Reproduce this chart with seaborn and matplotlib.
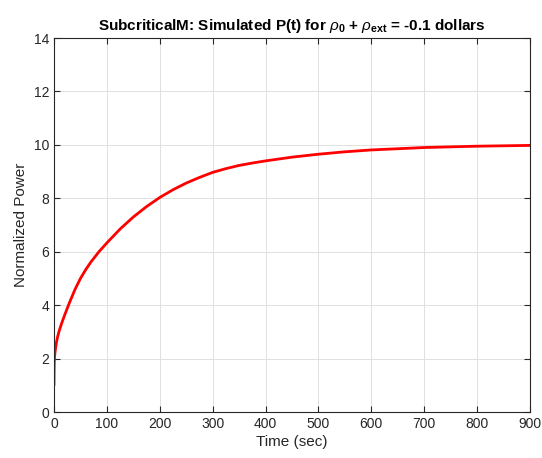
import matplotlib
matplotlib.use("Agg")
import matplotlib.pyplot as plt
import seaborn as sns
import pandas as pd

time_sec = [0, 0.2, 0.5, 1, 2, 3, 5, 7, 10, 15, 20, 26, 30, 40, 50, 60, 70, 85,
            100, 125, 150, 175, 200, 225, 250, 275, 300, 325, 350, 375, 400, 450,
            500, 550, 600, 700, 800, 900]
power = [1.0, 1.5, 1.85, 2.05, 2.25, 2.4, 2.65, 2.83, 3.05, 3.35, 3.62, 3.93, 4.13,
         4.6, 5.0, 5.33, 5.62, 6.0, 6.33, 6.85, 7.3, 7.69, 8.03, 8.32, 8.57, 8.78,
         8.97, 9.11, 9.23, 9.32, 9.4, 9.54, 9.65, 9.74, 9.81, 9.9, 9.95, 9.98]
x_ticks = [0, 100, 200, 300, 400, 500, 600, 700, 800, 900]
y_ticks = [0, 2, 4, 6, 8, 10, 12, 14]

df = pd.DataFrame({"t": time_sec, "P": power})

sns.set_style("whitegrid")
plt.rcParams["font.family"] = ["Liberation Sans", "DejaVu Sans"]
plt.rcParams["mathtext.fontset"] = "custom"
plt.rcParams["mathtext.rm"] = "Liberation Sans"
plt.rcParams["mathtext.it"] = "Liberation Sans:italic"
plt.rcParams["mathtext.bf"] = "Liberation Sans:bold"

fig = plt.figure(figsize=(5.42, 4.58), dpi=100, facecolor="white")
ax = fig.add_axes([54/542, 46/458, 476/542, 374/458])
ax.set_facecolor("white")

sns.lineplot(data=df, x="t", y="P", ax=ax, color="red", linewidth=2.0)

ax.set_xlim(0, 900)
ax.set_ylim(0, 14)
ax.set_xticks(x_ticks)
ax.set_yticks(y_ticks)
ax.grid(True, color="#e0e0e0", linewidth=0.7)
for s in ax.spines.values():
    s.set_visible(True)
    s.set_color("#262626")
    s.set_linewidth(0.8)
ax.tick_params(direction="in", length=4, width=0.8, colors="#262626",
               labelsize=10, top=True, right=True, bottom=True, left=True,
               labelcolor="#262626")
ax.set_xlabel("Time (sec)", fontsize=11, color="#262626", labelpad=3)
ax.set_ylabel("Normalized Power", fontsize=11, color="#262626", labelpad=4)
ax.set_title(r"SubcriticalM: Simulated P(t) for $\rho_\mathbf{0}$ + $\rho_\mathbf{ext}$ = -0.1 dollars",
             fontsize=11, fontweight="bold", color="black", pad=6)

fig.savefig("out.png", dpi=100, facecolor="white")
